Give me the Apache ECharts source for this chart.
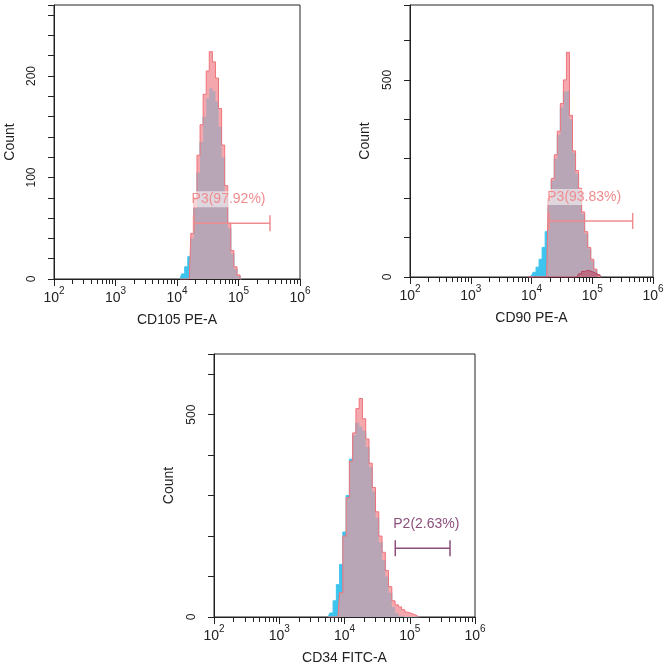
<!DOCTYPE html>
<html>
<head>
<meta charset="utf-8">
<script src="https://cdn.jsdelivr.net/npm/echarts@6/dist/echarts.min.js"></script>
<style>
html,body{margin:0;padding:0;background:#fff;}
#main{width:669px;height:672px;}
</style>
</head>
<body>
<div id="main"></div>
<script>
// bin centres are log10 of the fluorescence value
var p1Bins = [4.05,4.10,4.15,4.20,4.25,4.30,4.35,4.40,4.45,4.50,4.55,4.60,4.65,4.70,4.75,4.80,4.85,4.90,4.95,5.00,5.05];
var p1Cyan = [0,5,12,22,40,70,105,135,160,178,188,185,175,150,120,85,50,25,10,3,0];
var p1Red  = [0,0,0,0,45,80,122,152,182,205,224,214,198,168,132,92,55,28,12,4,0];
var p1Gate = [18600, 325000, 55];

var p2Bins = [3.95,4.00,4.05,4.10,4.15,4.20,4.25,4.30,4.35,4.40,4.45,4.50,4.55,4.60,4.65,4.70,4.75,4.80,4.85,4.90,4.95,5.00,5.05,5.10,5.15];
var p2Cyan = [0,3,12,25,45,75,115,195,245,300,360,430,470,475,400,315,262,218,160,110,72,42,18,5,0];
var p2Red  = [0,0,0,0,0,0,0,200,250,310,370,440,500,570,410,320,270,225,165,115,75,45,20,6,0];
var p2Dark = [0,0,0,0,0,0,0,0,0,0,0,0,0,0,0,0,0,8,14,17,15,12,8,4,0];
var p2Gate = [19600, 463000, 142];

var p3Bins = [3.75,3.80,3.85,3.90,3.95,4.00,4.05,4.10,4.15,4.20,4.25,4.30,4.35,4.40,4.45,4.50,4.55,4.60,4.65,4.70,4.75,4.80,4.85,4.90,4.95,5.00,5.05,5.10,5.15];
var p3Cyan = [0,10,40,80,130,210,300,390,450,480,470,460,420,370,310,245,185,140,100,60,25,10,3,0,0,0,0,0,0];
var p3Red  = [0,0,0,0,60,200,295,385,455,515,540,490,440,380,320,260,200,160,115,75,40,30,25,18,12,9,6,2,0];
var p3Gate = [60000, 414000, 170];

var gateLabels = ['P3(97.92%)', 'P3(93.83%)', 'P2(2.63%)'];
var xNames = ['CD105 PE-A', 'CD90 PE-A', 'CD34 FITC-A'];
var yMax = [270, 690, 650];
var yTickStep = [20, 100, 100];
var yLabelStep = [100, 500, 500];

var xDecades = [100, 1000, 10000, 100000, 1000000];
var xMinorSteps = [2, 3, 4, 5, 6, 7, 8, 9];

var chart = echarts.init(document.getElementById('main'));

var xMinor = [];
xDecades.forEach(function(d, i){
    if (i < xDecades.length - 1) {
        xMinorSteps.forEach(function(s){ xMinor.push(d * s); });
    }
});

function toPoints(bins, counts){
    return bins.map(function(b, i){ return [Math.pow(10, b), counts[i]]; });
}
function overlap(bins, a, b){
    return bins.map(function(x, i){ return [Math.pow(10, x), Math.min(a[i], b[i])]; });
}

var grids = [
    {left: 54, top: 5, width: 246, height: 274},
    {left: 410, top: 5, width: 243, height: 272},
    {left: 214, top: 354, width: 261, height: 263}
];
var panels = [
    {bins: p1Bins, cyan: p1Cyan, red: p1Red, gate: p1Gate, gateColor: '#ef8c8f', box: true},
    {bins: p2Bins, cyan: p2Cyan, red: p2Red, gate: p2Gate, gateColor: '#ef8c8f', box: true},
    {bins: p3Bins, cyan: p3Cyan, red: p3Red, gate: p3Gate, gateColor: '#8c4f7c', box: false}
];

var xAxes = [], yAxes = [], series = [];
var labelRich = {
    b: {fontSize: 14, lineHeight: 19, verticalAlign: 'bottom', color: '#222', fontFamily: 'Liberation Sans'},
    s: {fontSize: 10, lineHeight: 19, verticalAlign: 'top', color: '#222', fontFamily: 'Liberation Sans'}
};

panels.forEach(function(p, k){
    xAxes.push({
        type: 'log', gridIndex: k, position: 'bottom', min: 100, max: 1000000, logBase: 10,
        name: xNames[k], nameLocation: 'middle', nameGap: 34,
        nameTextStyle: {fontSize: 14, color: '#222', fontFamily: 'Liberation Sans'},
        axisLine: {lineStyle: {color: '#222', width: 1}},
        axisTick: {show: true, length: 5, customValues: xMinor, lineStyle: {color: '#222'}},
        axisLabel: {
            customValues: xDecades, margin: 7, rich: labelRich,
            formatter: function(v){ return '{b|10}{s|' + Math.round(Math.log10(v)) + '}'; }
        },
        splitLine: {show: false}
    });
    // decade ticks, a little longer
    xAxes.push({
        type: 'log', gridIndex: k, position: 'bottom', min: 100, max: 1000000, logBase: 10,
        axisLine: {show: false},
        axisTick: {show: true, length: 7, customValues: xDecades, lineStyle: {color: '#222'}},
        axisLabel: {show: false},
        splitLine: {show: false}
    });
    yAxes.push({
        type: 'value', gridIndex: k, min: 0, max: yMax[k], interval: yTickStep[k],
        name: 'Count', nameLocation: 'middle', nameGap: k === 0 ? 37 : 38,
        nameTextStyle: {fontSize: 14, color: '#222', fontFamily: 'Liberation Sans'},
        axisLine: {show: true, lineStyle: {color: '#222', width: 1}},
        axisTick: {show: true, length: 6, lineStyle: {color: '#222'}},
        axisLabel: {
            rotate: 90, margin: 16, fontSize: 12, color: '#222', fontFamily: 'Liberation Sans',
            formatter: function(v){ return v % yLabelStep[k] === 0 ? String(v) : ''; }
        },
        splitLine: {show: false}
    });
    var xi = k * 2;
    series.push({
        type: 'line', xAxisIndex: xi, yAxisIndex: k, step: 'middle', symbol: 'none', z: 2,
        data: toPoints(p.bins, p.cyan),
        lineStyle: {color: '#3cc4ee', width: 1}, areaStyle: {color: '#3cc4ee', opacity: 1}
    });
    series.push({
        type: 'line', xAxisIndex: xi, yAxisIndex: k, step: 'middle', symbol: 'none', z: 3,
        data: toPoints(p.bins, p.red),
        lineStyle: {width: 0}, areaStyle: {color: '#f5a7ae', opacity: 1}
    });
    series.push({
        type: 'line', xAxisIndex: xi, yAxisIndex: k, step: 'middle', symbol: 'none', z: 4,
        data: overlap(p.bins, p.cyan, p.red),
        lineStyle: {width: 0}, areaStyle: {color: '#b8a5b5', opacity: 1}
    });
    series.push({
        type: 'line', xAxisIndex: xi, yAxisIndex: k, step: 'middle', symbol: 'none', z: 5,
        data: toPoints(p.bins, p.red),
        lineStyle: {color: '#f0737b', width: 1}
    });
    if (k === 1) {
        series.push({
            type: 'line', xAxisIndex: xi, yAxisIndex: k, step: 'middle', symbol: 'none', z: 6,
            data: toPoints(p.bins, p2Dark),
            lineStyle: {color: '#b8405c', width: 1}, areaStyle: {color: '#c04a66', opacity: 0.6}
        });
    }
    series.push({
        type: 'custom', xAxisIndex: xi, yAxisIndex: k, z: 10, clip: false,
        data: [p.gate],
        encode: {x: [0, 1], y: 2},
        renderItem: function(params, api){
            var y = api.value(2);
            var a = api.coord([api.value(0), y]);
            var b = api.coord([api.value(1), y]);
            var st = {stroke: p.gateColor, lineWidth: 1.5};
            var kids = [
                {type: 'line', shape: {x1: a[0], y1: a[1], x2: b[0], y2: b[1]}, style: st},
                {type: 'line', shape: {x1: a[0], y1: a[1] - 8, x2: a[0], y2: a[1] + 8}, style: st},
                {type: 'line', shape: {x1: b[0], y1: b[1] - 8, x2: b[0], y2: b[1] + 8}, style: st},
                {type: 'text', style: {
                    text: gateLabels[k], x: a[0] - 2, y: a[1] - 24,
                    align: 'left', verticalAlign: 'middle',
                    fill: p.gateColor, fontSize: 14, fontFamily: 'Liberation Sans',
                    backgroundColor: p.box ? 'rgba(255,255,255,0.55)' : 'transparent',
                    padding: [1, 0, 1, 0]
                }}
            ];
            return {type: 'group', children: kids};
        }
    });
});

var option = {
    animation: false,
    backgroundColor: '#fff',
    grid: grids.map(function(g){
        return {left: g.left, top: g.top, width: g.width, height: g.height, show: true, borderColor: '#222', borderWidth: 1, backgroundColor: 'transparent'};
    }),
    xAxis: xAxes,
    yAxis: yAxes,
    series: series
};
chart.setOption(option);
</script>
</body>
</html>
